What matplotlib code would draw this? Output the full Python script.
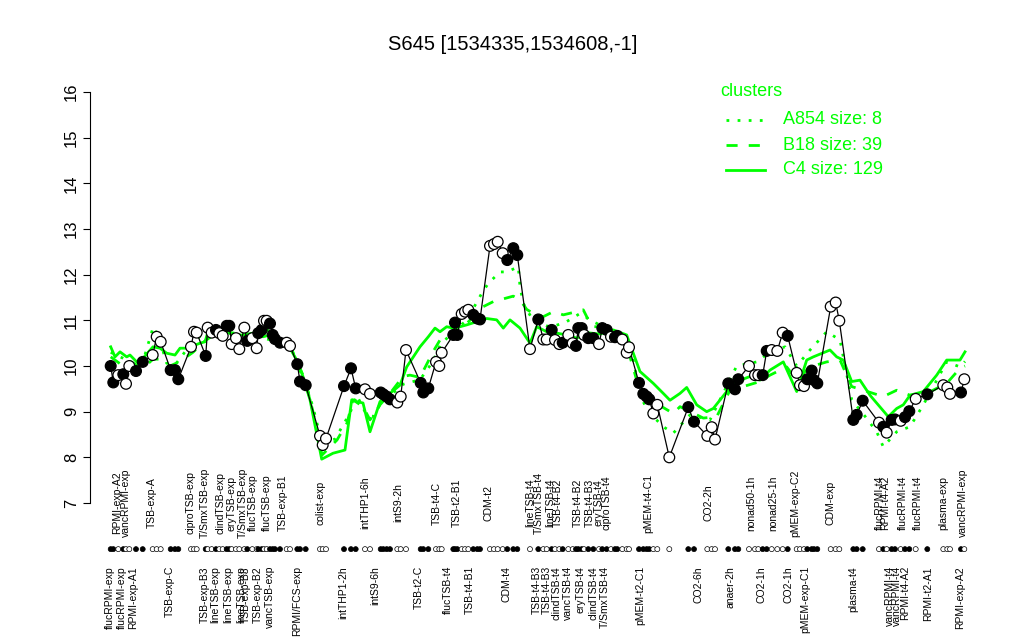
import matplotlib
matplotlib.use("Agg")
import matplotlib.pyplot as plt
from matplotlib.lines import Line2D

plt.rcParams['font.family'] = ['Liberation Sans', 'DejaVu Sans']

# posisi kondisi, nilai ekspresi, dan jenis titik (1 = isi hitam)
x_pos = [110.7, 113.3, 118.3, 123.3, 126.0, 129.3, 136.0, 142.7, 152.7, 156.7,
         160.7, 170.7, 175.0, 178.3, 191.0, 194.0, 196.7, 205.7, 207.7, 211.7,
         216.0, 219.3, 222.7, 226.7, 229.3, 231.7, 236.0, 239.3, 244.3, 247.3,
         252.3, 256.7, 258.3, 261.7, 264.0, 266.7, 270.0, 272.7, 275.0, 280.0,
         286.7, 290.0, 297.3, 300.0, 305.7, 320.0, 322.7, 326.0, 344.0, 351.0,
         355.7, 365.0, 370.0, 380.7, 383.3, 386.7, 390.0, 397.3, 400.7, 406.0,
         420.7, 423.3, 428.3, 436.0, 439.3, 441.7, 453.3, 455.0, 457.3, 461.7,
         465.0, 468.3, 473.3, 477.3, 480.0, 490.0, 494.0, 497.7, 502.7, 507.3,
         513.3, 517.3, 530.0, 538.3, 543.3, 546.7, 551.7, 555.0, 559.3, 562.7,
         568.3, 572.7, 576.0, 578.3, 581.7, 584.0, 588.3, 593.3, 599.0, 602.3,
         606.7, 611.0, 615.0, 617.3, 622.3, 626.7, 629.0, 639.0, 643.3, 646.7,
         649.3, 653.3, 657.3, 669.3, 688.3, 694.0, 707.3, 711.7, 715.0, 728.3,
         735.0, 738.3, 749.0, 755.0, 758.3, 762.7, 766.7, 771.7, 777.3, 782.7,
         787.7, 796.7, 800.0, 804.0, 807.3, 811.7, 814.0, 817.3, 830.7, 835.7,
         839.3, 853.3, 856.7, 862.7, 879.0, 883.3, 886.7, 891.7, 895.0, 900.7,
         905.0, 909.3, 915.7, 927.3, 943.3, 947.3, 950.0, 961.0, 964.3]
expr = [10.00, 9.64, 9.80, 9.82, 9.61, 10.00, 9.89, 10.09, 10.24, 10.64,
        10.53, 9.91, 9.91, 9.71, 10.42, 10.75, 10.73, 10.22, 10.84, 10.73,
        10.79, 10.72, 10.66, 10.88, 10.88, 10.48, 10.61, 10.37, 10.84, 10.55,
        10.61, 10.39, 10.72, 10.79, 10.99, 10.99, 10.93, 10.68, 10.59, 10.51,
        10.51, 10.44, 10.04, 9.66, 9.58, 8.47, 8.27, 8.41, 9.56, 9.95,
        9.51, 9.49, 9.39, 9.42, 9.38, 9.33, 9.27, 9.20, 9.33, 10.35,
        9.63, 9.42, 9.51, 10.09, 10.00, 10.29, 10.68, 10.95, 10.68, 11.14,
        11.19, 11.23, 11.12, 11.04, 11.02, 12.63, 12.67, 12.72, 12.47, 12.32,
        12.58, 12.43, 10.37, 11.02, 10.58, 10.58, 10.79, 10.57, 10.48, 10.51,
        10.68, 10.50, 10.44, 10.83, 10.83, 10.68, 10.61, 10.61, 10.48, 10.83,
        10.79, 10.64, 10.63, 10.66, 10.58, 10.29, 10.41, 9.63, 9.39, 9.33,
        9.27, 8.96, 9.15, 8.00, 9.10, 8.78, 8.47, 8.66, 8.39, 9.62,
        9.49, 9.71, 10.00, 9.80, 9.80, 9.80, 10.33, 10.35, 10.33, 10.73,
        10.66, 9.85, 9.58, 9.56, 9.71, 9.90, 9.69, 9.62, 11.30, 11.39,
        10.99, 8.82, 8.93, 9.24, 8.76, 8.67, 8.54, 8.82, 8.83, 8.80,
        8.88, 9.01, 9.28, 9.38, 9.58, 9.53, 9.39, 9.42, 9.71]
filled = [1, 1, 0, 1, 0, 0, 1, 1, 0, 0,
          0, 1, 1, 1, 0, 0, 0, 1, 0, 0,
          1, 0, 0, 1, 1, 0, 0, 0, 0, 1,
          0, 0, 1, 1, 0, 0, 1, 1, 1, 1,
          0, 0, 1, 1, 1, 0, 0, 0, 1, 1,
          1, 0, 0, 1, 1, 1, 1, 0, 0, 0,
          1, 1, 1, 0, 0, 0, 1, 1, 1, 0,
          0, 0, 1, 1, 1, 0, 0, 0, 0, 1,
          1, 1, 0, 1, 0, 0, 1, 0, 0, 1,
          0, 0, 1, 1, 1, 0, 1, 1, 0, 1,
          1, 0, 1, 1, 0, 0, 0, 1, 1, 1,
          1, 0, 0, 0, 1, 1, 0, 0, 0, 1,
          1, 1, 0, 0, 0, 1, 1, 0, 0, 0,
          1, 0, 0, 0, 1, 1, 1, 1, 0, 0,
          0, 1, 1, 1, 0, 1, 0, 1, 1, 0,
          1, 1, 0, 1, 0, 0, 0, 1, 0]

# rata-rata cluster (garis hijau)
c4_x = [110.7, 115, 120, 126.7, 130, 136.7, 143, 153, 160, 166.7, 175, 180, 186.7,
        193, 200, 205, 208, 215, 223, 233, 243, 253, 263, 270, 276.7, 283, 290,
        296.7, 303, 310, 321.7, 333, 345, 351.7, 356.7, 363, 370, 380, 390, 400,
        406.7, 420, 428.3, 435, 440, 446.7, 453.3, 460, 466.7, 476.7, 486.7,
        496.7, 503.3, 510, 520, 530, 536.7, 546.7, 556.7, 566.7, 576.7, 586.7,
        600, 613.3, 626.7, 633.3, 640, 653.3, 663.3, 670, 680, 686.7, 696.7,
        706.7, 713.3, 726.7, 736.7, 750, 760, 770, 783.3, 796.7, 806.7, 813.3,
        830, 836.7, 843.3, 851.7, 860, 870, 888.3, 896.7, 903.3, 910, 923.3,
        936.7, 946.7, 960, 965]
c4_y = [10.42, 10.20, 10.31, 10.20, 10.24, 10.09, 10.17, 10.42, 10.39, 10.28, 10.24,
        10.39, 10.39, 10.44, 10.50, 10.53, 10.75, 10.83, 10.79, 10.68, 10.68, 10.72,
        10.64, 10.68, 10.50, 10.50, 10.39, 10.13, 9.77, 9.26, 7.96, 8.09, 8.16, 9.26,
        9.22, 9.19, 8.56, 9.22, 9.40, 9.58, 9.98, 10.42, 10.64, 10.83, 10.75, 10.86,
        10.83, 10.86, 10.90, 10.97, 11.04, 11.01, 10.83, 11.01, 10.83, 10.50, 10.86,
        10.75, 10.72, 10.68, 10.61, 10.73, 10.70, 10.79, 10.68, 10.28, 9.88, 9.62,
        9.40, 9.25, 9.40, 9.53, 9.15, 9.00, 9.07, 9.44, 9.66, 9.77, 9.69, 9.91,
        10.09, 9.44, 10.13, 10.20, 10.35, 10.20, 10.13, 9.66, 9.69, 9.36, 8.89,
        9.07, 9.15, 9.36, 9.44, 9.80, 10.13, 10.13, 10.31]

b18_x = [110.7, 120, 130, 143, 153, 160, 170, 180, 193, 205, 215, 225, 240, 255,
         265, 275, 290, 297, 305, 313, 322, 337, 347, 353, 363, 370, 380, 390,
         403, 410, 420, 433, 440, 453.3, 466.7, 483.3, 493.3, 513.3, 520, 526.7,
         533.3, 543.3, 553.3, 563.3, 576.7, 583.3, 591.7, 603.3, 616.7, 630, 640,
         653.3, 673.3, 680, 703.3, 716.7, 730, 743.3, 760, 770, 786.7, 796.7, 810,
         826.7, 840, 851.7, 863.3, 883.3, 896.7, 910, 926.7, 946.7, 960, 965]
b18_y = [10.20, 10.05, 10.10, 9.95, 10.15, 10.15, 10.00, 10.10, 10.30, 10.55, 10.70,
         10.75, 10.70, 10.65, 10.60, 10.55, 10.45, 10.10, 9.70, 9.00, 8.05, 8.38, 8.75,
         9.26, 9.11, 8.82, 9.15, 9.40, 9.77, 9.80, 9.75, 10.31, 10.57, 10.75, 10.93,
         11.30, 11.41, 11.53, 11.45, 11.24, 11.15, 11.08, 11.19, 11.12, 11.19, 11.23,
         10.86, 10.86, 10.72, 10.20, 9.44, 9.22, 8.96, 9.11, 8.86, 8.89, 9.47, 9.55,
         9.66, 9.80, 9.98, 9.69, 9.98, 10.09, 10.13, 9.55, 9.47, 9.33, 9.47, 9.36,
         9.40, 9.62, 9.95, 10.00]

a854_x = [110.7, 123, 136, 143, 153.3, 160, 166.7, 176, 185, 195, 205, 215, 226,
          240, 253, 265, 275, 290, 297, 305, 313, 322, 335, 350, 356.7, 365, 373,
          380, 390, 403, 420, 433, 440, 453, 466.7, 481.7, 488.3, 500, 506.7, 518.3,
          520, 523.3, 533, 550, 565, 580, 595, 610, 625, 633.3, 640, 648.3, 663.3,
          673.3, 690, 710, 736.7, 756.7, 770, 785, 796.7, 810, 826.7, 840, 851.7,
          865, 876.7, 883.3, 896.7, 910, 923.3, 946.7, 960, 965]
a854_y = [10.30, 10.17, 10.00, 10.10, 10.86, 10.55, 10.06, 10.05, 10.31, 10.55, 10.75,
          10.85, 10.85, 10.65, 10.70, 10.85, 10.60, 10.45, 10.05, 9.65, 9.10, 8.30,
          8.40, 8.97, 9.36, 9.00, 8.89, 9.15, 9.35, 9.60, 9.70, 10.10, 10.45, 10.75,
          11.00, 11.59, 11.81, 12.06, 12.06, 12.17, 11.74, 11.37, 11.00, 10.85, 10.95,
          11.15, 10.95, 10.80, 10.60, 10.13, 9.36, 9.00, 8.67, 8.53, 8.93, 8.82, 10.00,
          10.09, 10.31, 10.42, 10.00, 10.35, 10.75, 10.57, 9.26, 8.90, 8.56, 8.23,
          8.56, 8.67, 9.15, 10.09, 9.98, 10.10]

# label kondisi (baris atas dan bawah)
top_labels = ["RPMI-exp-A2", "vancRPMI-exp", "TSB-exp-A", "ciproTSB-exp",
              "T/SmxTSB-exp", "clindTSB-exp", "eryTSB-exp", "T/SmxTSB-exp",
              "flucTSB-exp", "flucTSB-exp", "TSB-exp-B1", "colist-exp",
              "intTHP1-6h", "intS9-2h", "TSB-t4-C", "TSB-t2-B1", "CDM-t2",
              "lineTSB-t4", "T/SmxTSB-t4", "lineTSB-t4", "TSB-t4-B2", "TSB-t4-B2",
              "TSB-t4-B3", "eryTSB-t4", "ciproTSB-t4", "pMEM-t4-C1", "CO2-2h",
              "nonad50-1h", "nonad25-1h", "pMEM-exp-C2", "CDM-exp", "flucRPMI-t4",
              "RPMI-t4-A2", "flucRPMI-t4", "flucRPMI-t4", "plasma-exp", "vancRPMI-exp"]
top_x = [116.7, 126, 151.7, 190, 205, 220, 231.7, 243.3, 253.3, 266.7, 283.3, 320,
         365, 398.3, 436.7, 456.7, 488, 530, 539.3, 550, 558.3, 578.3, 590, 598.3,
         606.7, 648.3, 708.3, 751.7, 773.3, 795, 830, 880, 885, 903.3, 918.3,
         943.3, 963.3]
bottom_labels = ["flucRPMI-exp", "flucRPMI-exp", "RPMI-exp-A1", "TSB-exp-C",
                 "TSB-exp-B3", "lineTSB-exp", "lineTSB-exp", "lineTSB-exp",
                 "TSB-exp-B3", "TSB-exp-B2", "vancTSB-exp", "RPMI/FCS-exp",
                 "intTHP1-2h", "intS9-6h", "TSB-t2-C", "flucTSB-t4", "TSB-t4-B1",
                 "CDM-t4", "TSB-t4-B3", "TSB-t4-B3", "clindTSB-t4", "vancTSB-t4",
                 "eryTSB-t4", "clindTSB-t4", "T/SmxTSB-t4", "pMEM-t2-C1", "CO2-6h",
                 "anaer-2h", "CO2-1h", "CO2-1h", "pMEM-exp-C1", "plasma-t4",
                 "vancRPMI-t4", "vancRPMI-t4", "RPMI-t4-A2", "RPMI-t2-A1", "RPMI-exp-A2"]
bottom_x = [110, 121.7, 133.3, 170, 205, 215, 228.3, 241.7, 245.7, 258.3, 270, 296.7,
            343.3, 375, 419.3, 448.3, 470, 506.7, 536.7, 546.7, 556.7, 568.3, 580,
            593.3, 605, 640, 698.3, 730, 761.7, 788.3, 805, 853.3, 890, 896.7, 905,
            928.3, 960]

GREEN = "#00ff00"

fig = plt.figure(figsize=(10.24, 6.4), dpi=100)
ax = fig.add_axes([90 / 1024, 120 / 640, 905 / 1024, 445 / 640])
ax.set_xlim(90, 995)
ax.set_ylim(6.628, 16.372)

# garis rata-rata cluster
ax.plot(a854_x, a854_y, color=GREEN, lw=2, linestyle=(0, (1, 3)), zorder=2)
ax.plot(b18_x, b18_y, color=GREEN, lw=2, linestyle=(0, (4, 4)), zorder=2)
ax.plot(c4_x, c4_y, color=GREEN, lw=2, zorder=2)

# profil ekspresi
faces = ["black" if f else "white" for f in filled]
ax.plot(x_pos, expr, color="black", lw=0.9, zorder=3)
ax.scatter(x_pos, expr, s=60, c=faces, edgecolors="black", linewidths=0.9, zorder=4)

# baris titik kecil di bawah sumbu
ax.scatter(x_pos, [5.99] * len(x_pos), s=13, c=faces, edgecolors="black",
           linewidths=0.5, clip_on=False, zorder=4)

for lab, xx in zip(top_labels, top_x):
    ax.text(xx, 7.0, lab, rotation=90, ha="center", va="center", fontsize=7.5,
            clip_on=False)
for lab, xx in zip(bottom_labels, bottom_x):
    ax.text(xx, 5.62, lab, rotation=90, ha="center", va="top", fontsize=7.5,
            clip_on=False)

# sumbu
ax.set_yticks(range(7, 17))
ax.tick_params(axis="y", labelrotation=90, length=5, labelsize=12, pad=3)
for t in ax.get_yticklabels():
    t.set_va("center")
ax.set_xticks([])
for side in ["top", "right", "bottom"]:
    ax.spines[side].set_visible(False)
ax.spines["left"].set_bounds(7, 16)

fig.text(513 / 1024, 1 - 45 / 640, "S645 [1534335,1534608,-1]", ha="center",
         va="center", fontsize=14.5)

# legenda
fig.text(720 / 1024, 1 - 92 / 640, "clusters", color=GREEN, fontsize=13,
         ha="left", va="center")
leg_styles = [(0, (1, 3)), (0, (4, 4)), "-"]
leg_labels = ["A854 size: 8", "B18 size: 39", "C4 size: 129"]
for i, (ls, lab) in enumerate(zip(leg_styles, leg_labels)):
    yy = 1 - (120 + 25 * i) / 640
    fig.add_artist(Line2D([726 / 1024, 765 / 1024], [yy, yy], color=GREEN, lw=2,
                          linestyle=ls, transform=fig.transFigure))
    fig.text(783 / 1024, yy, lab, color=GREEN, fontsize=13, ha="left", va="center")

fig.savefig("out.png", dpi=100)
